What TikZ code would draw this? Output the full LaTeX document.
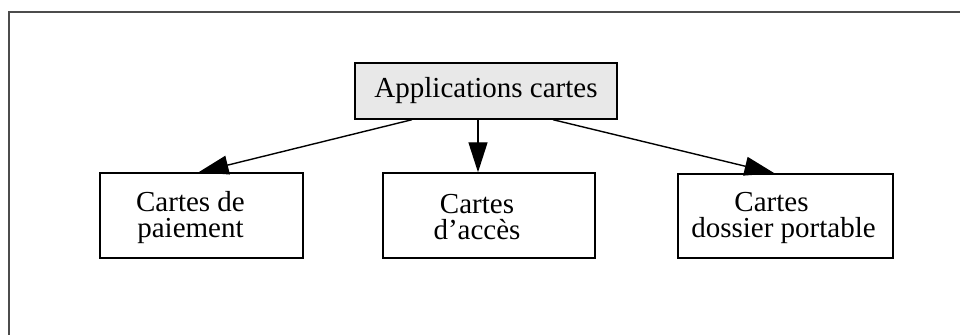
\documentclass[tikz,border=0pt]{standalone}
\usepackage{fontspec}
\setmainfont{Liberation Serif}
\usetikzlibrary{arrows.meta}

\begin{document}
\begin{tikzpicture}[x=0.5pt, y=-0.5pt,
  box/.style={draw, line width=0.7pt, rectangle, inner sep=0pt},
  label text/.style={font=\fontsize{14.5}{13}\selectfont, align=center, inner sep=0pt},
  link/.style={line width=0.7pt, -{Triangle[length=15pt, width=9.5pt]}},
  frame/.style={draw=black!70, line width=1pt}]

  % page extent
  \useasboundingbox (0,0) rectangle (960,335);

  % surrounding frame (runs off the page on the right and bottom)
  \draw[frame] (9,400) -- (9,12) -- (1000,12);

  % root box with light stippled fill
  \node[box, fill=black!9, minimum width=131pt, minimum height=28pt] (root) at (486,91) {};
  \node[label text] (rootlbl) at (root.center) {Applications cartes};

  % child boxes
  \node[box, minimum width=101.5pt, minimum height=42.5pt] (pay) at (201.5,215.5) {};
  \node[box, minimum width=106pt, minimum height=42.5pt] (acc) at (489,215.5) {};
  \node[box, minimum width=107.5pt, minimum height=42pt] (dos) at (785.5,216) {};

  \node[label text] (paylbl) at ([xshift=-5.5pt, yshift=-1pt]pay.center) {Cartes de\\paiement};
  \node[label text] (acclbl) at ([xshift=-6pt, yshift=-1pt]acc.center) {Cartes\\d’accès};
  \node[label text] (doslbl) at ([xshift=-1pt, yshift=-1pt]dos.center) {\hspace*{-12pt}Cartes\\dossier portable};

  % connectors
  \draw[link] ([xshift=-37pt]root.south) -- ([xshift=-1.5pt]pay.north);
  \draw[link] ([xshift=-4pt]root.south) -- ([xshift=-5.5pt]acc.north);
  \draw[link] ([xshift=33.5pt]root.south) -- ([xshift=-5.5pt]dos.north);
\end{tikzpicture}
\end{document}
